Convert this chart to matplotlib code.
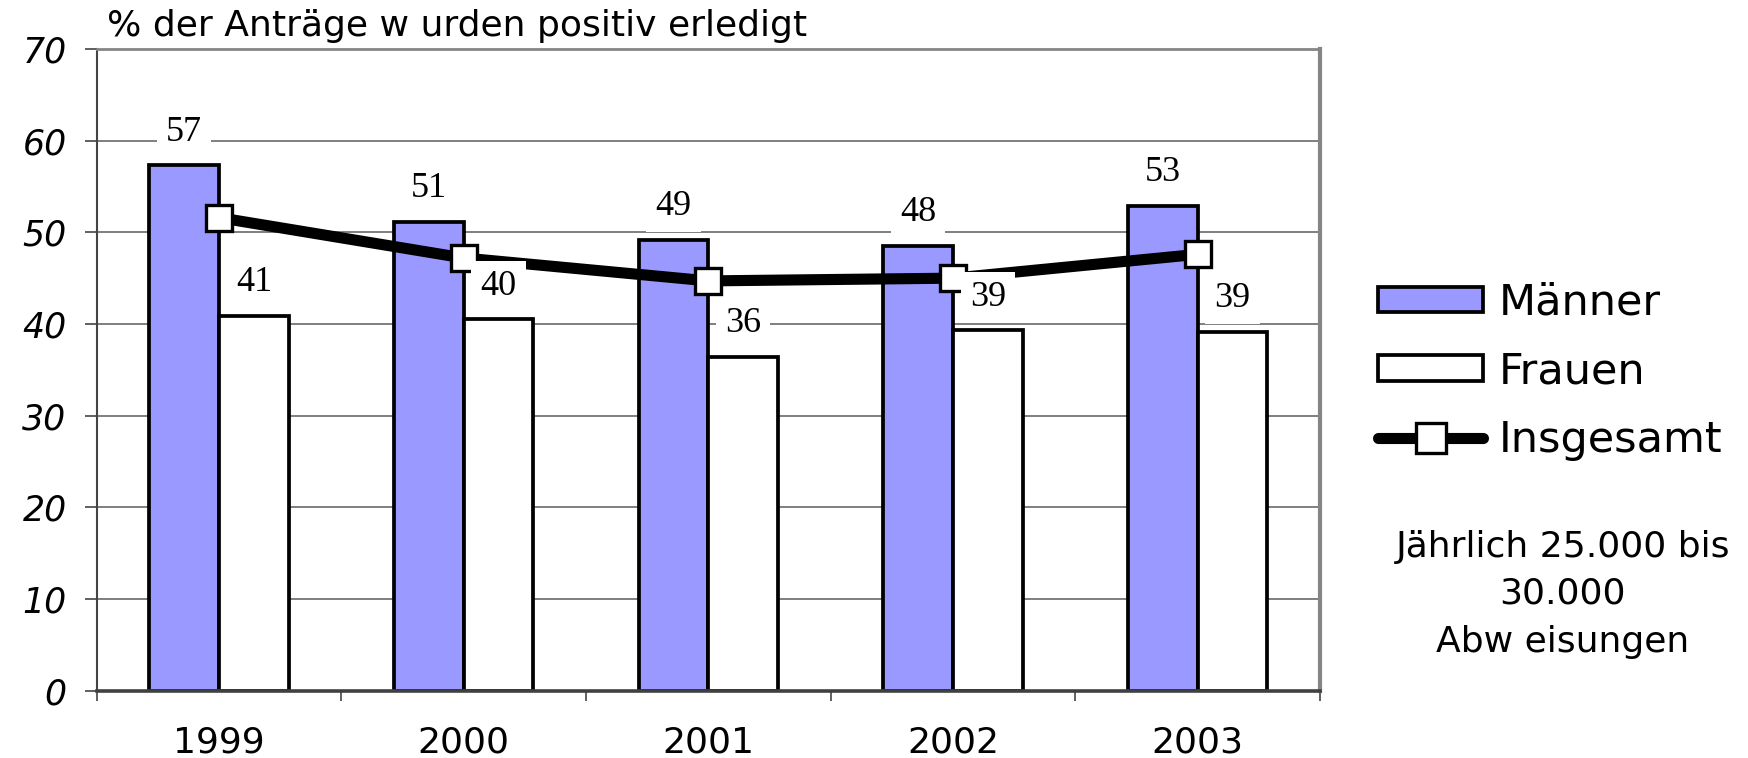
import matplotlib
matplotlib.use("Agg")
import matplotlib.pyplot as plt
from matplotlib.lines import Line2D
from matplotlib.patches import Patch
import numpy as np

# ---- data ----
years = ["1999", "2000", "2001", "2002", "2003"]
maenner = [57.3, 51.1, 49.2, 48.5, 52.9]
frauen = [40.9, 40.5, 36.4, 39.3, 39.1]
insgesamt = [51.6, 47.2, 44.7, 45.0, 47.6]
maenner_labels = ["57", "51", "49", "48", "53"]
frauen_labels = ["41", "40", "36", "39", "39"]
series_names = ["Männer", "Frauen", "Insgesamt"]
yticks = [0, 10, 20, 30, 40, 50, 60, 70]
title = "% der Anträge w urden positiv erledigt"
note_lines = ["Jährlich 25.000 bis", "30.000", "Abw eisungen"]

BAR_BLUE = "#9999FF"
SANS = "DejaVu Sans"
SERIF = "Liberation Serif"

fig = plt.figure(figsize=(17.48, 7.58), dpi=100)
ax = fig.add_axes([0.0553, 0.0888, 0.6998, 0.8466])

x = np.arange(len(years))
w = 0.285
ax.set_axisbelow(True)
ax.yaxis.grid(True, color="#6a6a6a", linewidth=1.2)

ax.bar(x - w / 2, maenner, width=w, color=BAR_BLUE, edgecolor="black",
       linewidth=2.7, zorder=3)
ax.bar(x + w / 2, frauen, width=w, color="white", edgecolor="black",
       linewidth=2.7, zorder=3)
ax.plot(x, insgesamt, color="black", linewidth=8, marker="s", markersize=19,
        markerfacecolor="white", markeredgecolor="black", markeredgewidth=2.4,
        zorder=4, solid_capstyle="round")

for xi, v, lab in zip(x - w / 2, maenner, maenner_labels):
    ax.annotate(lab, (xi, v), xytext=(0, 24), textcoords="offset points",
                ha="center", va="center", fontsize=26, family=SERIF, zorder=6,
                bbox=dict(boxstyle="square,pad=0.25", fc="white", ec="none"))
for xi, v, lab in zip(x + w / 2, frauen, frauen_labels):
    ax.annotate(lab, (xi, v), xytext=(0, 24), textcoords="offset points",
                ha="center", va="center", fontsize=26, family=SERIF, zorder=6,
                bbox=dict(boxstyle="square,pad=0.25", fc="white", ec="none"))

ax.set_xlim(-0.5, len(years) - 0.5)
ax.set_ylim(0, 70)
ax.set_yticks(yticks)
ax.set_yticklabels([str(t) for t in yticks], fontsize=25, family=SANS,
                   style="italic")
ax.tick_params(axis="y", direction="out", length=8.6, width=1.2,
               color="#444444", pad=13)
ax.set_xticks(x)
ax.set_xticklabels(years, fontsize=26, family=SANS)
ax.set_xticks(np.arange(-0.5, len(years)), minor=True)
ax.tick_params(axis="x", which="major", length=0, pad=25)
ax.tick_params(axis="x", which="minor", direction="out", length=7.5,
               width=1.2, color="#444444")

ax.spines["left"].set_color("#444444")
ax.spines["left"].set_linewidth(1.5)
ax.spines["bottom"].set_color("#404040")
ax.spines["bottom"].set_linewidth(2.6)
ax.spines["bottom"].set_zorder(5)
ax.spines["top"].set_color("#858585")
ax.spines["top"].set_linewidth(2.0)
ax.spines["right"].set_color("#858585")
ax.spines["right"].set_linewidth(3.0)

fig.text(0.061, 0.9525, title, fontsize=26, family=SANS, ha="left",
         va="baseline")

handles = [
    Patch(facecolor=BAR_BLUE, edgecolor="black", linewidth=2.7),
    Patch(facecolor="white", edgecolor="black", linewidth=2.7),
    Line2D([0], [0], color="black", linewidth=8, marker="s", markersize=21,
           markerfacecolor="white", markeredgecolor="black",
           markeredgewidth=2.4, solid_capstyle="round"),
]
fig.legend(handles, series_names, loc="center left",
           bbox_to_anchor=(0.7883, 0.51), frameon=False, borderpad=0,
           borderaxespad=0, prop={"family": SANS, "size": 31},
           handlelength=2.45, handleheight=0.55, handletextpad=0.35,
           labelspacing=0.62)

for yy, line in zip([547, 594, 642], note_lines):
    fig.text(0.894, 1 - yy / 758, line, fontsize=26, family=SANS,
             ha="center", va="center")

fig.savefig("out.png", dpi=100)
